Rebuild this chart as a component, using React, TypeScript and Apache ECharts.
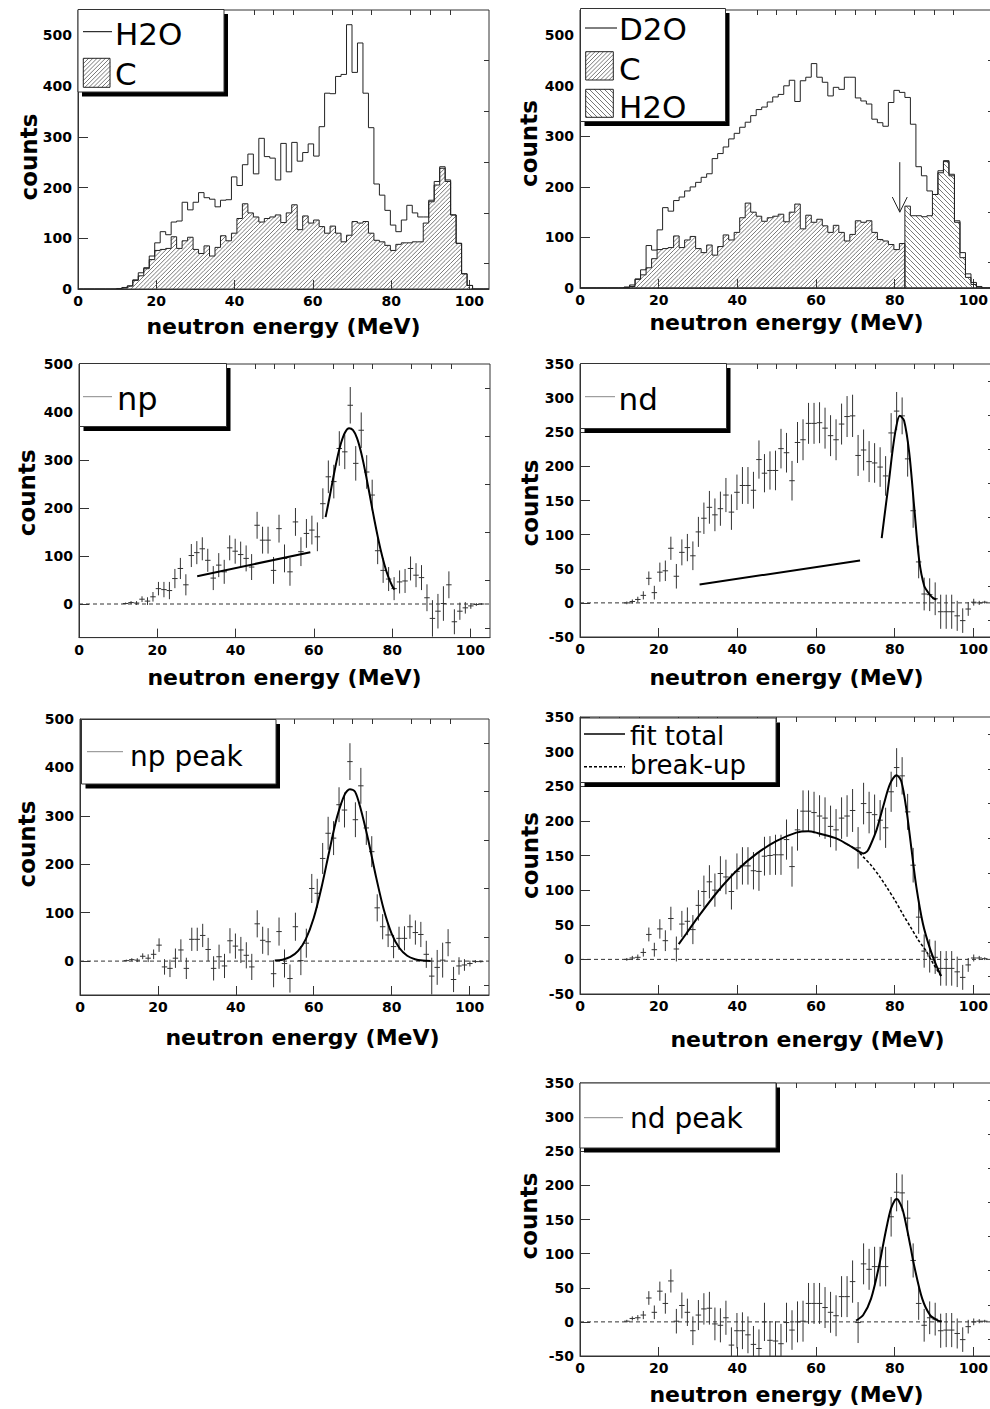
import { useEffect, useRef } from "react";
import * as echarts from "echarts";

// ---------------- constants ----------------
const FONT = "DejaVu Sans";
const BIN_W = 1.4; // MeV per bin, bins start at 0
const X_MAX = 105;
const X_MAJOR = [0, 20, 40, 60, 80, 100];
const X_MINOR = [5, 10, 15, 25, 30, 35, 45, 50, 55, 65, 70, 75, 85, 90, 95];
const X_TITLE = "neutron energy (MeV)";
const Y_TITLE = "counts";

// ---------------- data (75 bins of 1.4 MeV) ----------------
const H2O_COUNTS = [0, 0, 0, 0, 0, 0, 0, 1,
  3, 6, 18, 32, 42, 65, 91, 113, 107, 132,
  134, 171, 156, 171, 190, 180, 177, 162, 175, 176,
  221, 204, 245, 266, 227, 297, 261, 258, 215, 287,
  231, 289, 252, 269, 286, 262, 320, 386, 385, 419,
  423, 521, 427, 485, 386, 318, 207, 185, 155, 126,
  113, 136, 165, 150, 142, 142, 175, 212, 241, 215,
  146, 90, 30, 7, 0, 0, 0];

const C_COUNTS = [0, 0, 0, 0, 0, 0, 0, 0,
  2, 6, 17, 26, 40, 58, 76, 78, 80, 103,
  80, 95, 102, 78, 70, 85, 65, 82, 105, 95,
  110, 139, 168, 150, 142, 132, 139, 142, 146, 131,
  150, 166, 117, 144, 130, 136, 123, 110, 124, 110,
  93, 106, 133, 130, 133, 110, 96, 93, 86, 76,
  88, 91, 91, 93, 93, 130, 172, 205, 238, 212,
  146, 90, 30, 7, 0, 0, 0];

const D2O_COUNTS = [0, 0, 0, 0, 0, 0, 0, 0,
  1, 3, 18, 36, 84, 75, 115, 159, 152, 173,
  180, 192, 200, 209, 219, 226, 256, 266, 279, 295,
  306, 318, 328, 341, 353, 358, 368, 378, 383, 400,
  411, 369, 410, 417, 444, 417, 407, 380, 397, 393,
  417, 417, 376, 370, 364, 334, 327, 320, 367, 391,
  387, 377, 324, 240, 222, 192, 185, 232, 252, 225,
  133, 70, 28, 11, 3, 0, 0];

// H2O contribution shown in the D2O panel above the arrow (bins >= 59)
const C_CUT_BIN = 59;
const H2O_IN_D2O = [0, 0, 0, 0, 0, 0, 0, 0, 0, 0,
  0, 0, 0, 0, 0, 0, 0, 0, 0, 0,
  0, 0, 0, 0, 0, 0, 0, 0, 0, 0,
  0, 0, 0, 0, 0, 0, 0, 0, 0, 0,
  0, 0, 0, 0, 0, 0, 0, 0, 0, 0,
  0, 0, 0, 0, 0, 0, 0, 0, 0,
  162, 143, 143, 141, 143, 185, 228, 250, 222, 130, 60, 21, 7, 0, 0, 0];

const NP = [null, null, null, null, null, null, null, null,
  1, 3, 2, 10, 6, 15, 32, 30, 28, 53,
  74, 40, 101, 107, 115, 91, 54, 81, 67, 117,
  110, 103, 95, 77, 164, 133, 133, 70, 157, 95,
  67, 171, 109, 147, 154, 140, 209, 265, 255, 324,
  317, 414, 293, 362, 275, 227, 111, 70, 52, 32,
  46, 48, 74, 60, 55, 13, -30, -15, 1, 40,
  -37, -15, -8, -4, -1, 0, null];

const NP_ERR = [null, null, null, null, null, null, null, null,
  2, 3, 4, 6, 8, 10, 14, 16, 18, 20,
  22, 22, 24, 24, 24, 24, 25, 25, 25, 26,
  26, 27, 27, 27, 28, 28, 28, 28, 29, 29,
  29, 29, 30, 30, 30, 30, 32, 34, 35, 36,
  36, 38, 36, 37, 35, 32, 28, 26, 25, 24,
  24, 25, 25, 25, 26, 28, 38, 36, 36, 28,
  26, 18, 12, 6, 3, 2, null];

const NP_PEAK = [null, null, null, null, null, null, null, null,
  1, 3, 2, 10, 6, 14, 33, -12, -15, 6,
  23, -15, 45, 45, 53, 24, -15, 9, -10, 42,
  31, 23, 12, -12, 77, 43, 40, -26, 61, -5,
  -36, 71, 1, 37, 150, 140, 212, 264, 254, 323,
  312, 412, 292, 362, 275, 226, 110, 71, 54, 30,
  47, 47, 71, 59, 55, 14, -31, -13, 2, 38,
  -38, -10, -8, -5, -1, -1, null];

const ND = [null, null, null, null, null, null, null, null,
  0, 2, 5, 11, 36, 15, 45, 47, 80, 39,
  74, 81, 69, 104, 124, 140, 129, 138, 158, 133,
  162, 172, 172, 165, 210, 190, 194, 194, 226, 220,
  179, 235, 239, 263, 263, 264, 256, 245, 239, 262,
  273, 274, 216, 224, 207, 205, 199, 186, 249, 281,
  274, 211, 135, 60, 13, 12, 6, -13, -13, -13,
  -19, -26, -9, 1, 0, 1, null];

const ND_ERR = [null, null, null, null, null, null, null, null,
  2, 3, 4, 6, 10, 10, 14, 15, 17, 18,
  19, 20, 21, 22, 23, 24, 24, 25, 25, 26,
  26, 27, 27, 27, 28, 28, 28, 29, 29, 29,
  29, 30, 30, 30, 30, 30, 30, 30, 30, 30,
  30, 31, 30, 30, 30, 29, 29, 29, 29, 28,
  27, 26, 25, 24, 24, 24, 24, 25, 25, 25,
  22, 18, 10, 5, 3, 2, null];

const ND_MINUS_LINE = [null, null, null, null, null, null, null, null,
  0, 2, 3, 10, 36, 14, 44, 27, 59, 15,
  51, 55, 43, 78, 98, 112, 100, 124, 119, 98,
  127, 135, 135, 128, 127, 149, 150, 151, 151, 173,
  134, 187, 214, 214, 212, 207, 204, 192, 187, 204,
  207, 215, 161, 225, 212, 209, 201, 190, 242, 277,
  265, 213, 136, 61, 12, 5, 3, -13, -13, -13,
  -18, -26, -8, 2, 2, 1, null];

const ND_PEAK = [null, null, null, null, null, null, null, null,
  1, 5, 6, 10, 35, 14, 45, 27, 60, 1,
  24, 14, -13, 10, 19, 20, -3, -5, 6, -34,
  -13, -13, -19, -33, -39, 0, -27, -28, -32, -1,
  -12, 0, 1, 27, 27, 27, 21, 14, 9, 37,
  37, 59, -1, 85, 77, 81, 81, 81, 154, 190,
  189, 152, 90, 27, -5, 6, 4, -13, -12, -12,
  -17, -26, -7, 0, 1, 1, null];

// fitted curves as [MeV, counts]
const NP_BG_LINE = [[30.2, 58], [59.1, 108]];
const NP_FIT = [[63, 181], [64, 222], [65, 265], [66, 305], [67, 337], [68, 358], [69, 366], [70, 362],
  [71, 346], [72, 318], [73, 281], [74, 239], [75, 195], [76, 153], [77, 115], [78, 83], [79, 57], [80, 38], [80.6, 30]];
const ND_BG_LINE = [[30.4, 27], [71.2, 62]];
const ND_FIT = [[76.7, 95], [77.8, 145], [78.6, 181], [79.4, 220], [80.3, 255], [81.3, 274], [82.4, 267],
  [83.7, 220], [85, 138], [86.2, 64], [87.5, 25], [88.8, 13], [89.8, 7], [90.6, 5]];
const NP_PEAK_FIT = [[50, 1], [52, 3], [54, 8.5], [56, 21], [58, 46], [60, 89], [62, 152], [64, 227], [66, 298],
  [68, 345], [69.3, 355], [70.6, 350], [72, 316], [74, 250], [76, 174], [78, 106], [80, 57], [82, 27], [84, 11],
  [86, 4], [88, 1.3], [90, 0.4]];
const ND_TOTAL_FIT = [[25.1, 22], [27, 37], [30, 61], [35, 98], [40, 129], [45, 153], [50, 171], [55, 183],
  [58, 185], [60, 183], [65, 175], [68, 166], [70.3, 158], [71.2, 155], [72, 153], [73, 156], [73.7, 163],
  [75.4, 187], [77.1, 221], [78.8, 253], [80.5, 266], [81.7, 257], [83, 216], [84.3, 158], [85.5, 105],
  [87.2, 51], [88.9, 17], [90.6, -9], [91.8, -24]];
const BREAKUP_FIT = [[68, 166], [70.3, 158], [72, 148], [74, 136], [76, 121], [78, 104], [80, 86], [82, 66],
  [84, 47], [86, 28], [88, 12], [90, -8], [91.8, -24]];
const ND_PEAK_FIT = [[70.2, 2], [72, 10], [74, 34], [76, 81], [77, 111], [78, 140], [79, 165], [80, 178],
  [80.5, 180], [81, 178], [82, 165], [83, 140], [84, 111], [85, 81], [87, 34], [89, 10], [91, 2], [92, 0.6]];

// arrow in the D2O panel (MeV, counts)
const ARROW_SHAFT = [[81.3, 249], [81.3, 150]];
const ARROW_HEAD = [[79.4, 180], [81.3, 150], [83.2, 180]];

// ---------------- layout ----------------
const Y550_MAJOR = [0, 100, 200, 300, 400, 500];
const Y550_MINOR = [50, 150, 250, 350, 450];
const Y500_MAJOR = [0, 100, 200, 300, 400, 500];
const Y500_MINOR = [-50, 50, 150, 250, 350, 450];
const Y350_MAJOR = [-50, 0, 50, 100, 150, 200, 250, 300, 350];
const Y350_MINOR = [-25, 25, 75, 125, 175, 225, 275, 325];

const PANELS = [
  { left: 78, top: 10, width: 411, height: 279, yMin: 0, yMax: 550, yMajor: Y550_MAJOR, yMinor: Y550_MINOR, xGap: 26.4, xPad: [0, 0, 0, 0], yGap: 38, yPad: [0, 15, 0, 0] },
  { left: 580, top: 10, width: 413, height: 278, yMin: 0, yMax: 550, yMajor: Y550_MAJOR, yMinor: Y550_MINOR, xGap: 23.4, xPad: [0, 0, 0, 0], yGap: 39.5, yPad: [0, 0, 0, 11] },
  { left: 79, top: 364, width: 411, height: 273.6, yMin: -70, yMax: 500, yMajor: Y500_MAJOR, yMinor: Y500_MINOR, xGap: 29.1, xPad: [0, 0, 0, 0], yGap: 40.5, yPad: [0, 0, 0, 16] },
  { left: 580, top: 364, width: 413, height: 273, yMin: -50, yMax: 350, yMajor: Y350_MAJOR, yMinor: Y350_MINOR, xGap: 29.4, xPad: [0, 0, 0, 0], yGap: 38.5, yPad: [0, 5, 0, 0] },
  { left: 80, top: 719, width: 409, height: 276, yMin: -70, yMax: 500, yMajor: Y500_MAJOR, yMinor: Y500_MINOR, xGap: 31.4, xPad: [0, 0, 0, 36], yGap: 41.5, yPad: [0, 0, 0, 26] },
  { left: 580, top: 717, width: 413, height: 277, yMin: -50, yMax: 350, yMajor: Y350_MAJOR, yMinor: Y350_MINOR, xGap: 34.4, xPad: [0, 0, 0, 42], yGap: 38.5, yPad: [0, 0, 0, 0] },
  { left: 580, top: 1083, width: 413, height: 273, yMin: -50, yMax: 350, yMajor: Y350_MAJOR, yMinor: Y350_MINOR, xGap: 27.4, xPad: [0, 0, 0, 0], yGap: 39.5, yPad: [0, 0, 0, 7] },
];

const LEGENDS: any[] = [
  { box: [78, 9.5, 146, 82.5], items: [
    { sample: "line", x1: 83, x2: 112, y: 31.7, stroke: "#000", lw: 1, label: "H2O", tx: 115, base: 45, size: 31 },
    { sample: "hatch", rect: [83.3, 58.3, 26.7, 29], dir: 1, spacing: 4.2, label: "C", tx: 115, base: 85, size: 31 },
  ] },
  { box: [580.5, 8.5, 145, 113], items: [
    { sample: "line", x1: 585, x2: 617, y: 28, stroke: "#000", lw: 1, label: "D2O", tx: 619, base: 40, size: 31 },
    { sample: "hatch", rect: [585.7, 51.7, 27.6, 28.3], dir: 1, spacing: 4.2, label: "C", tx: 619, base: 80, size: 31 },
    { sample: "hatch", rect: [585.7, 89.3, 27.6, 28], dir: -1, spacing: 5, label: "H2O", tx: 619, base: 118, size: 31 },
  ] },
  { box: [79.5, 363.5, 147, 63], items: [
    { sample: "line", x1: 83, x2: 112, y: 396.7, stroke: "#888", lw: 1, label: "np", tx: 117, base: 410, size: 32 },
  ] },
  { box: [580.5, 363.5, 146, 65], items: [
    { sample: "line", x1: 585, x2: 615, y: 396.7, stroke: "#888", lw: 1, label: "nd", tx: 618.5, base: 410, size: 31 },
  ] },
  { box: [81.5, 719.5, 194.5, 64.5], items: [
    { sample: "line", x1: 87, x2: 123, y: 751.7, stroke: "#888", lw: 1, label: "np peak", tx: 130, base: 766, size: 28 },
  ] },
  { box: [580.5, 718, 195.5, 64.5], items: [
    { sample: "line", x1: 584, x2: 625, y: 734, stroke: "#000", lw: 1.5, label: "fit total", tx: 630, base: 745, size: 26 },
    { sample: "dash", x1: 584, x2: 625, y: 766.7, stroke: "#000", lw: 1.5, label: "break-up", tx: 630, base: 773.5, size: 26 },
  ] },
  { box: [580, 1083, 196, 65], items: [
    { sample: "line", x1: 584, x2: 623, y: 1117.7, stroke: "#888", lw: 1, label: "nd peak", tx: 630, base: 1128.5, size: 28 },
  ] },
];

// ---------------- helpers ----------------
function hatchSegs(L: number, R: number, T: number, B: number, spacing: number, dir: number): number[][] {
  const segs: number[][] = [];
  if (R - L < 0.05 || B - T < 0.05) return segs;
  if (dir > 0) {
    const start = Math.ceil((L + T) / spacing) * spacing;
    for (let c = start; c <= R + B; c += spacing) {
      const x1 = Math.max(L, c - B), x2 = Math.min(R, c - T);
      if (x2 > x1) segs.push([x1, c - x1, x2, c - x2]);
    }
  } else {
    const start = Math.ceil((L - B) / spacing) * spacing;
    for (let c = start; c <= R - T; c += spacing) {
      const x1 = Math.max(L, c + T), x2 = Math.min(R, c + B);
      if (x2 > x1) segs.push([x1, x1 - c, x2, x2 - c]);
    }
  }
  return segs;
}

function histData(vals: number[]) {
  return vals.map((v, i) => [i * BIN_W, (i + 1) * BIN_W, v, i > 0 ? vals[i - 1] : 0]);
}

function histSeries(name: string, g: number, vals: number[], dir: number, spacing: number) {
  return {
    type: "custom",
    name,
    xAxisIndex: 2 * g,
    yAxisIndex: 2 * g,
    clip: true,
    silent: true,
    z: 3,
    encode: { x: [0, 1], y: [2, 3] },
    data: histData(vals),
    renderItem: (_p: any, api: any) => {
      const lo = api.value(0), hi = api.value(1), v = api.value(2), pv = api.value(3);
      const bl = api.coord([lo, 0]);
      const tr = api.coord([hi, v]);
      const pp = api.coord([lo, pv]);
      const children: any[] = [];
      if (dir !== 0 && v > 0) {
        for (const s of hatchSegs(bl[0], tr[0], tr[1], bl[1], spacing, dir)) {
          children.push({ type: "line", shape: { x1: s[0], y1: s[1], x2: s[2], y2: s[3] }, style: { stroke: "#555", lineWidth: 0.8 } });
        }
      }
      children.push({
        type: "polyline",
        shape: { points: [[bl[0], pp[1]], [bl[0], tr[1]], [tr[0], tr[1]]] },
        style: { stroke: "#222", lineWidth: 1, fill: "none" },
      });
      return { type: "group", children };
    },
  };
}

function errSeries(name: string, g: number, vals: (number | null)[], errs: (number | null)[]) {
  const data: number[][] = [];
  vals.forEach((v, i) => {
    if (v !== null && errs[i] !== null) data.push([(i + 0.5) * BIN_W, v, errs[i] as number]);
  });
  return {
    type: "custom",
    name,
    xAxisIndex: 2 * g,
    yAxisIndex: 2 * g,
    clip: true,
    silent: true,
    z: 3,
    encode: { x: 0, y: 1 },
    data,
    renderItem: (_p: any, api: any) => {
      const c = api.value(0), v = api.value(1), e = api.value(2);
      const a = api.coord([c - BIN_W / 2, v]);
      const b = api.coord([c + BIN_W / 2, v]);
      const t = api.coord([c, v + e]);
      const u = api.coord([c, v - e]);
      const st = { stroke: "#333", lineWidth: 1 };
      return {
        type: "group",
        children: [
          { type: "line", shape: { x1: a[0], y1: a[1], x2: b[0], y2: b[1] }, style: st },
          { type: "line", shape: { x1: t[0], y1: t[1], x2: u[0], y2: u[1] }, style: st },
        ],
      };
    },
  };
}

function lineSeries(name: string, g: number, data: number[][], opts: any = {}) {
  return {
    type: "line",
    name,
    xAxisIndex: 2 * g,
    yAxisIndex: 2 * g,
    data,
    symbol: "none",
    showSymbol: false,
    smooth: opts.smooth ?? false,
    silent: true,
    z: opts.z ?? 4,
    lineStyle: { color: opts.color ?? "#000", width: opts.width ?? 2, type: opts.type ?? "solid" },
  };
}

function zeroLine(g: number) {
  return lineSeries("zero", g, [[0, 0], [X_MAX, 0]], { width: 1, color: "#333", type: [4, 3], z: 2 });
}

const tickLabelStyle = { color: "#000", fontFamily: FONT, fontWeight: "bold", fontSize: 14 };

function buildOption() {
  const grid: any[] = [];
  const xAxis: any[] = [];
  const yAxis: any[] = [];
  PANELS.forEach((p, g) => {
    grid.push({
      left: p.left, top: p.top, width: p.width, height: p.height,
      show: true, borderColor: "#333", borderWidth: 1, backgroundColor: "transparent",
      containLabel: false, outerBoundsMode: "none",
    });
    xAxis.push({
      gridIndex: g, type: "value", min: 0, max: X_MAX,
      axisLine: { show: true, onZero: false, lineStyle: { color: "#333", width: 1 } },
      axisTick: { show: true, inside: true, length: 9, customValues: X_MAJOR, lineStyle: { color: "#333" } },
      axisLabel: { show: true, customValues: X_MAJOR, margin: 5, ...tickLabelStyle },
      splitLine: { show: false },
      name: X_TITLE, nameLocation: "middle", nameGap: p.xGap, nameMoveOverlap: false,
      nameTextStyle: { color: "#000", fontFamily: FONT, fontWeight: "bold", fontSize: 22, padding: p.xPad },
    });
    xAxis.push({
      gridIndex: g, type: "value", min: 0, max: X_MAX,
      axisLine: { show: false, onZero: false },
      axisTick: { show: true, inside: true, length: 5, customValues: X_MINOR, lineStyle: { color: "#333" } },
      axisLabel: { show: false },
      splitLine: { show: false },
    });
    yAxis.push({
      gridIndex: g, type: "value", min: p.yMin, max: p.yMax,
      axisLine: { show: true, onZero: false, lineStyle: { color: "#333", width: 1 } },
      axisTick: { show: true, inside: true, length: 10, customValues: p.yMajor, lineStyle: { color: "#333" } },
      axisLabel: { show: true, customValues: p.yMajor, margin: 6, ...tickLabelStyle },
      splitLine: { show: false },
      name: Y_TITLE, nameLocation: "middle", nameGap: p.yGap, nameMoveOverlap: false,
      nameTextStyle: { color: "#000", fontFamily: FONT, fontWeight: "bold", fontSize: 23, padding: p.yPad },
    });
    yAxis.push({
      gridIndex: g, type: "value", min: p.yMin, max: p.yMax,
      axisLine: { show: false, onZero: false },
      axisTick: { show: true, inside: true, length: 5, customValues: p.yMinor, lineStyle: { color: "#333" } },
      axisLabel: { show: false },
      splitLine: { show: false },
    });
  });

  const series: any[] = [
    // panel 1
    histSeries("C", 0, C_COUNTS, 1, 4.2),
    histSeries("H2O", 0, H2O_COUNTS, 0, 0),
    // panel 2
    histSeries("C", 1, C_COUNTS.map((v, i) => (i < C_CUT_BIN ? v : 0)), 1, 4.2),
    histSeries("H2O", 1, H2O_IN_D2O, -1, 5),
    histSeries("D2O", 1, D2O_COUNTS, 0, 0),
    lineSeries("arrow", 1, ARROW_SHAFT, { width: 1, color: "#222" }),
    lineSeries("arrow head", 1, ARROW_HEAD, { width: 1, color: "#222" }),
    // panel 3
    zeroLine(2),
    errSeries("np", 2, NP, NP_ERR),
    lineSeries("np background", 2, NP_BG_LINE, { width: 2 }),
    lineSeries("np fit", 2, NP_FIT, { width: 2, smooth: 0.3 }),
    // panel 4
    zeroLine(3),
    errSeries("nd", 3, ND, ND_ERR),
    lineSeries("nd background", 3, ND_BG_LINE, { width: 2 }),
    lineSeries("nd fit", 3, ND_FIT, { width: 2, smooth: 0.3 }),
    // panel 5
    zeroLine(4),
    errSeries("np peak", 4, NP_PEAK, NP_ERR),
    lineSeries("np peak fit", 4, NP_PEAK_FIT, { width: 2, smooth: 0.3 }),
    // panel 6
    zeroLine(5),
    errSeries("nd", 5, ND_MINUS_LINE, ND_ERR),
    lineSeries("break-up", 5, BREAKUP_FIT, { width: 1.5, smooth: 0.3, type: [3, 2] }),
    lineSeries("fit total", 5, ND_TOTAL_FIT, { width: 2, smooth: 0.3, z: 5 }),
    // panel 7
    zeroLine(6),
    errSeries("nd peak", 6, ND_PEAK, ND_ERR),
    lineSeries("nd peak fit", 6, ND_PEAK_FIT, { width: 2, smooth: 0.3 }),
  ];

  // legends (ROOT-style boxes with shadow)
  const graphic: any[] = [];
  LEGENDS.forEach((L) => {
    const [x, y, w, h] = L.box;
    graphic.push({ type: "rect", z: 100, silent: true, shape: { x: x + 4, y: y + 4.5, width: w, height: h }, style: { fill: "#000" } });
    graphic.push({ type: "rect", z: 101, silent: true, shape: { x, y, width: w, height: h }, style: { fill: "#fff", stroke: "#333", lineWidth: 1 } });
    L.items.forEach((it: any) => {
      if (it.sample === "line" || it.sample === "dash") {
        graphic.push({
          type: "line", z: 102, silent: true,
          shape: { x1: it.x1, y1: it.y, x2: it.x2, y2: it.y },
          style: { stroke: it.stroke, lineWidth: it.lw, lineDash: it.sample === "dash" ? [3, 2] : null },
        });
      } else {
        const [rx, ry, rw, rh] = it.rect;
        for (const s of hatchSegs(rx, rx + rw, ry, ry + rh, it.spacing, it.dir)) {
          graphic.push({ type: "line", z: 102, silent: true, shape: { x1: s[0], y1: s[1], x2: s[2], y2: s[3] }, style: { stroke: "#555", lineWidth: 0.8 } });
        }
        graphic.push({ type: "rect", z: 103, silent: true, shape: { x: rx, y: ry, width: rw, height: rh }, style: { fill: "none", stroke: "#222", lineWidth: 1 } });
      }
      graphic.push({
        type: "text", z: 103, silent: true,
        style: {
          text: it.label, x: it.tx, y: it.base - 0.346 * it.size,
          fill: "#000", fontFamily: FONT, fontSize: it.size, fontWeight: "normal",
          align: "left", verticalAlign: "middle",
        },
      });
    });
  });

  return {
    animation: false,
    backgroundColor: "#fff",
    grid,
    xAxis,
    yAxis,
    series,
    graphic,
  };
}

export default function App() {
  const ref = useRef<HTMLDivElement>(null);
  useEffect(() => {
    if (!ref.current) return;
    const chart = echarts.init(ref.current, null, { renderer: "svg", width: 990, height: 1409 });
    chart.setOption(buildOption() as any);
    return () => chart.dispose();
  }, []);
  return (
    <div
      ref={ref}
      style={{ position: "absolute", left: 0, top: 0, width: 990, height: 1409, background: "#fff" }}
    />
  );
}
